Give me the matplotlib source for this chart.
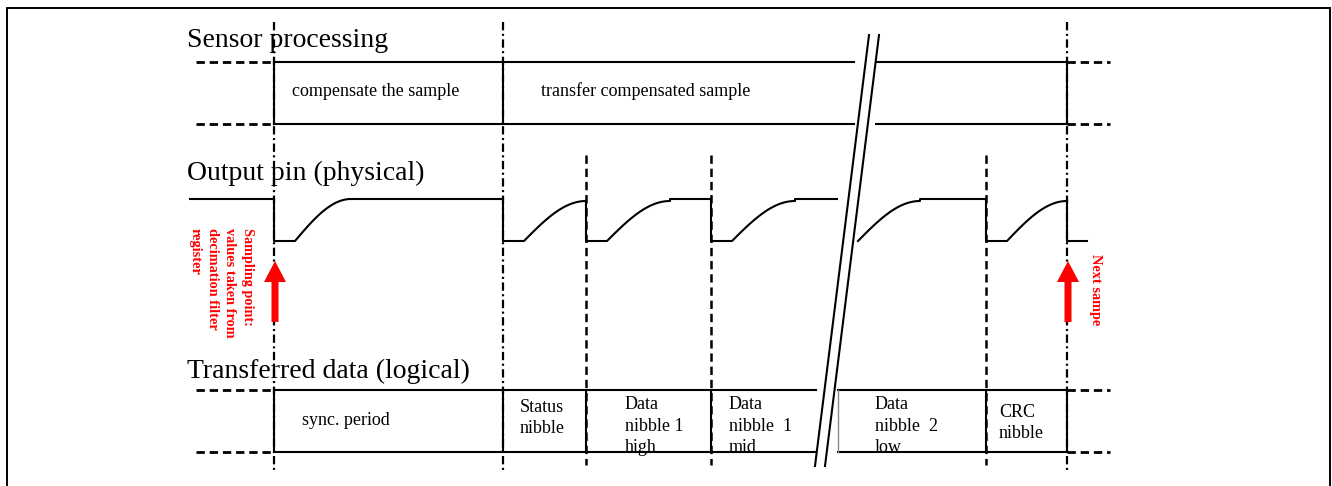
import numpy as np
import matplotlib
matplotlib.use("Agg")
import matplotlib.pyplot as plt
from matplotlib.patches import FancyArrow

plt.rcParams['font.family'] = ['Liberation Serif', 'DejaVu Serif']
plt.rcParams['lines.scale_dashes'] = False

# ---------------- data ----------------
titles = ["Sensor processing", "Output pin (physical)", "Transferred data (logical)"]
sensor_labels = ["compensate the sample", "transfer compensated sample"]
sensor_edges = [274, 503, 1067]
slot_labels = ["sync. period", "Status\nnibble", "Data\nnibble 1\nhigh",
               "Data\nnibble  1\nmid", "Data\nnibble  2\nlow", "CRC\nnibble"]
slot_edges = [274, 503, 586, 711, 986, 1067]
sample_edges = [274, 1067]          # dash-dot lines (sampling points)
nibble_edges = [586, 711, 986]      # dashed lines
sample_notes = ["Sampling point:\nvalues taken from\ndecimation filter\nregister", "Next sampe"]

# waveform pulses: falling edge, end, rise length
pulse_start = [274, 503, 586, 711, 986]
pulse_end = [503, 586, 711, 837, 1067]
rise_len = [56, 63, 63, 63, 61]

# ---------------- layout ----------------
W, H = 1332, 486
fig = plt.figure(figsize=(W / 100, H / 100), dpi=100)
ax = fig.add_axes([0, 0, 1, 1])
ax.set_xlim(0, W)
ax.set_ylim(H, 0)
ax.axis('off')

LW = 1.5
K = 'black'
dash = (0, (6, 3.5))
dashdot = (0, (6, 2.5, 1.5, 2.5))

# border
ax.plot([7, 7, 1330, 1330], [H, 8, 8, H], color=K, lw=1.4, solid_joinstyle='miter')

# titles
title_y = [47, 180, 378]
for t, y in zip(titles, title_y):
    ax.text(187, y, t, fontsize=20, va='baseline', ha='left')

# vertical sampling (dash-dot) lines
for x in [274, 503, 1067]:
    ax.plot([x, x], [22, 470], color=K, lw=1.6, linestyle=dashdot)
# vertical nibble (dashed) lines
for x in nibble_edges:
    ax.plot([x, x], [155, 465], color=K, lw=1.8, linestyle=dash)

# ---- sensor processing box ----
sy0, sy1 = 62, 124
s_break = (854, 876)
for y in (sy0, sy1):
    ax.plot([274, s_break[0]], [y, y], color=K, lw=LW)
    ax.plot([s_break[1], 1067], [y, y], color=K, lw=LW)
    ax.plot([196, 274], [y, y], color=K, lw=2, linestyle=dash)
    ax.plot([1067, 1110], [y, y], color=K, lw=2, linestyle=dash)
for x in sensor_edges:
    ax.plot([x, x], [sy0, sy1], color=K, lw=LW)
for lab, x in zip(sensor_labels, [292, 541]):
    ax.text(x, 91, lab, fontsize=13, va='center', ha='left')

# ---- transferred data box ----
dy0, dy1 = 390, 452
d_break = (816, 838)
for y in (dy0, dy1):
    ax.plot([274, d_break[0]], [y, y], color=K, lw=LW)
    ax.plot([d_break[1], 1067], [y, y], color=K, lw=LW)
    ax.plot([196, 274], [y, y], color=K, lw=2, linestyle=dash)
    ax.plot([1067, 1110], [y, y], color=K, lw=2, linestyle=dash)
for x in slot_edges:
    ax.plot([x, x], [dy0, dy1], color=K, lw=LW)
ax.plot([d_break[1], d_break[1]], [dy0, dy1], color='#888888', lw=1.0)
slot_x = [302, 520, 625, 729, 875, 999]
slot_y = [420, 418, 426, 426, 426, 423]
for lab, x, y in zip(slot_labels, slot_x, slot_y):
    ax.text(x, y, lab, fontsize=13, va='center', ha='left', linespacing=1.32)

# ---- output pin waveform ----
hi, lo = 199, 241
low_len = 21


def rise(x0, length, top):
    t = np.linspace(0, 1, 40)
    return list(x0 + t * length), list(lo - (lo - top) * np.sin(np.pi / 2 * t))


ax.plot([190, 274], [hi, hi], color=K, lw=LW)
for i, (xs0, xe, rl) in enumerate(zip(pulse_start, pulse_end, rise_len)):
    top = hi if i == 0 else hi + 2
    prev_top = hi + 2 if i == 2 else hi
    px = [xs0, xs0, xs0 + low_len]
    py = [prev_top, lo, lo]
    rx, ry = rise(xs0 + low_len, min(rl, xe - xs0 - low_len), top)
    px += rx
    py += ry
    if px[-1] < xe:
        px += [px[-1], xe]
        py += [hi, hi]
    ax.plot(px, py, color=K, lw=LW)
# after-break segment
rx, ry = rise(858, 62, hi + 2)
ax.plot(rx + [920, 986], ry + [hi, hi], color=K, lw=LW)
# final drop into next sample
ax.plot([1067, 1067, 1087], [hi + 2, lo, lo], color=K, lw=LW)

# ---- break marks (//) ----
for off in (0, 10):
    ax.plot([869 + off, 815 + off], [35, 466], color=K, lw=1.5)

# ---- sampling arrows ----
for x in sample_edges:
    ax.add_patch(FancyArrow(x + 1, 322, 0, -61, width=7, head_width=22,
                            head_length=21, length_includes_head=True,
                            color='red', lw=0, zorder=5))
ax.text(254, 228, sample_notes[0], rotation=270, ha='right', va='top',
        multialignment='left', color='red', fontsize=10.3, fontweight='bold',
        linespacing=1.45)
ax.text(1089, 254, sample_notes[1], rotation=270, ha='left', va='top',
        color='red', fontsize=10.3, fontweight='bold')

fig.savefig("out.png", dpi=100)
